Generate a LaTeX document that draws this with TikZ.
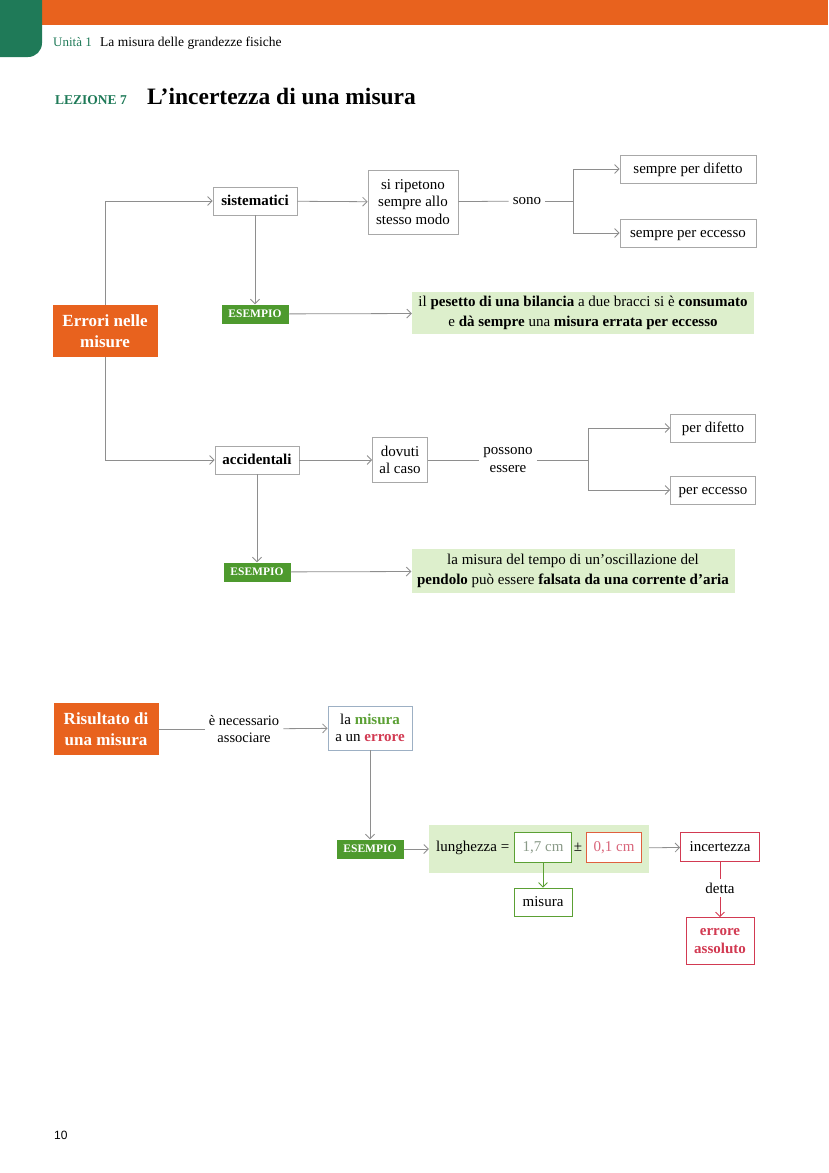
\documentclass[tikz,border=0pt]{standalone}
\usepackage{fontspec}
\setmainfont{Liberation Serif}
\setsansfont{Liberation Sans}
\usetikzlibrary{arrows.meta}

\definecolor{arancio}{HTML}{E8621E}
\definecolor{verdetab}{HTML}{1F7A58}
\definecolor{verdees}{HTML}{4E9A2E}
\definecolor{verdechiaro}{HTML}{DDEFCC}
\definecolor{grigiolinea}{HTML}{8E8E8E}
\definecolor{grigiobordo}{HTML}{A8A8A8}
\definecolor{bordoblu}{HTML}{9DB0C4}
\definecolor{rosso}{HTML}{D23A52}
\definecolor{rossoarancio}{HTML}{E0603E}
\definecolor{rosa}{HTML}{D9657A}
\definecolor{verdetesto}{HTML}{5BA034}
\definecolor{grigiotesto}{HTML}{8A9A88}

\tikzset{
	scatola/.style={draw=grigiobordo, fill=white, line width=0.8pt, inner xsep=5pt, minimum height=28pt, align=center, font=\fontsize{15}{17.5}\selectfont},
	unariga/.style={text height=10.5pt, text depth=2pt},
	titolo/.style={fill=arancio, text=white, align=center, font=\fontsize{17}{21}\bfseries\selectfont, minimum width=105pt, minimum height=52pt},
	esempio/.style={fill=verdees, text=white, font=\fontsize{11.5}{12}\bfseries\selectfont, minimum width=67pt, minimum height=19pt, inner sep=0pt},
	riquadro/.style={fill=verdechiaro, align=center, font=\fontsize{15}{19.5}\selectfont},
	testo/.style={align=center, inner sep=4pt, font=\fontsize{15}{17.5}\selectfont},
	linea/.style={draw=grigiolinea, line width=0.8pt},
	freccia/.style={linea, -{Straight Barb[length=4.5pt,width=9pt]}},
}

\begin{document}
\begin{tikzpicture}[x=1pt,y=-1pt]
		\useasboundingbox (0,0) rectangle (828,1173);
		
		% testata
		\fill[arancio] (0,0) rectangle (828,25);
		\fill[verdetab, rounded corners=14pt] (-30,-30) rectangle (42,57);
		\node[anchor=base west, inner sep=0pt, font=\fontsize{13}{15}\selectfont, text=verdetab] (unita) at (53,46) {Unità 1};
		\node[anchor=base west, inner sep=0pt, font=\fontsize{13.5}{15}\selectfont] (capitolo) at (100,46) {La misura delle grandezze fisiche};
		\node[anchor=base west, inner sep=0pt, font=\fontsize{13.5}{15}\bfseries\selectfont, text=verdetab] (lezione) at (55,104) {LEZIONE 7};
		\node[anchor=base west, inner sep=0pt, font=\fontsize{23.5}{28}\bfseries\selectfont] (lezionetitolo) at (147,104) {L’incertezza di una misura};
		
		% errori nelle misure
		\node[titolo] (errori) at (105,331) {Errori nelle\\misure};
		
		\node[scatola, unariga, minimum width=84pt, font=\fontsize{15}{17.5}\bfseries\selectfont] (sist) at (255,201) {sistematici};
		\node[scatola, minimum width=90pt, minimum height=64pt] (ripetono) at (413,202) {si ripetono\\sempre allo\\stesso modo};
		\node[testo] (sono) at (527,201) {sono};
		\coordinate (bivio1) at (573,201);
		\node[scatola, unariga, minimum width=136pt] (sdifetto) at (688,169) {sempre per difetto};
		\node[scatola, unariga, minimum width=136pt] (seccesso) at (688,233) {sempre per eccesso};
		\node[esempio] (es1) at (255,314) {ESEMPIO};
		\node[riquadro, minimum width=342pt, minimum height=42pt] (ex1) at (583,313) {il \textbf{pesetto di una bilancia} a due bracci si è \textbf{consumato}\\e \textbf{dà sempre} una \textbf{misura errata per eccesso}};
		
		\node[scatola, unariga, minimum width=84pt, font=\fontsize{15}{17.5}\bfseries\selectfont] (acc) at (257,460) {accidentali};
		\node[scatola, minimum width=55pt, minimum height=45pt] (dovuti) at (400,460) {dovuti\\al caso};
		\node[testo] (possono) at (508,460) {possono\\essere};
		\coordinate (bivio2) at (588,460);
		\node[scatola, unariga, minimum width=85pt] (pdifetto) at (713,428) {per difetto};
		\node[scatola, unariga, minimum width=85pt] (peccesso) at (713,490) {per eccesso};
		\node[esempio] (es2) at (257,572) {ESEMPIO};
		\node[riquadro, minimum width=323pt, minimum height=44pt] (ex2) at (573,571) {la misura del tempo di un’oscillazione del\\\textbf{pendolo} può essere \textbf{falsata da una corrente d’aria}};
		
		\draw[freccia] (errori.north) |- (sist.west);
		\draw[freccia] (errori.south) |- (acc.west);
		\draw[freccia] (sist) -- (ripetono);
		\draw[linea] (ripetono) -- (sono);
		\draw[linea] (sono) -- (bivio1);
		\draw[freccia] (bivio1) |- (sdifetto.west);
		\draw[freccia] (bivio1) |- (seccesso.west);
		\draw[freccia] (sist) -- (es1);
		\draw[freccia] (es1) -- (ex1);
		
		\draw[freccia] (acc) -- (dovuti);
		\draw[linea] (dovuti) -- (possono);
		\draw[linea] (possono) -- (bivio2);
		\draw[freccia] (bivio2) |- (pdifetto.west);
		\draw[freccia] (bivio2) |- (peccesso.west);
		\draw[freccia] (acc) -- (es2);
		\draw[freccia] (es2) -- (ex2);
		
		% risultato di una misura
		\node[titolo] (risultato) at (106,729) {Risultato di\\una misura};
		\node[testo, font=\fontsize{14.5}{17}\selectfont] (necess) at (244,729) {è necessario\\associare};
		\node[scatola, draw=bordoblu, minimum width=84pt, minimum height=44pt] (lamisura) at (370,728) {la \textbf{\color{verdetesto}misura}\\a un \textbf{\color{rosso}errore}};
		\node[esempio] (es3) at (370,849) {ESEMPIO};
		\node[fill=verdechiaro, minimum width=220pt, minimum height=48pt] (pannello) at (539,849) {};
		\node[testo, unariga, anchor=west] (lunghezza) at (432,847) {lunghezza =};
		\node[scatola, unariga, draw=verdetesto, text=grigiotesto, minimum width=57pt, minimum height=30pt] (valore) at (543,847) {1,7 cm};
		\node[testo, unariga] (pm) at (578,847) {±};
		\node[scatola, unariga, draw=rossoarancio, text=rosa, minimum width=55pt, minimum height=30pt] (errval) at (614,847) {0,1 cm};
		\node[scatola, unariga, draw=rosso, minimum width=79pt, minimum height=29pt] (incertezza) at (720,847) {incertezza};
		\node[testo] (detta) at (720,888) {detta};
		\node[scatola, draw=rosso, text=rosso, minimum width=68pt, minimum height=47pt, font=\fontsize{15}{17.5}\bfseries\selectfont] (errass) at (720,941) {errore\\assoluto};
		\node[scatola, unariga, draw=verdetesto, minimum width=58pt] (misura) at (543,902) {misura};
		
		\draw[linea] (risultato) -- (necess);
		\draw[freccia] (necess) -- (lamisura);
		\draw[freccia] (lamisura) -- (es3);
		\draw[freccia] (es3) -- (pannello);
		\draw[freccia] (pannello) -- (incertezza);
		\draw[freccia, draw=verdetesto] (valore) -- (misura);
		\draw[linea, draw=rosso] (incertezza) -- (detta);
		\draw[freccia, draw=rosso] (detta) -- (errass);
		
		\node[anchor=west, inner sep=0pt, font=\sffamily\fontsize{12}{14}\selectfont] (pagina) at (54,1135) {10};
	\end{tikzpicture}
\end{document}
